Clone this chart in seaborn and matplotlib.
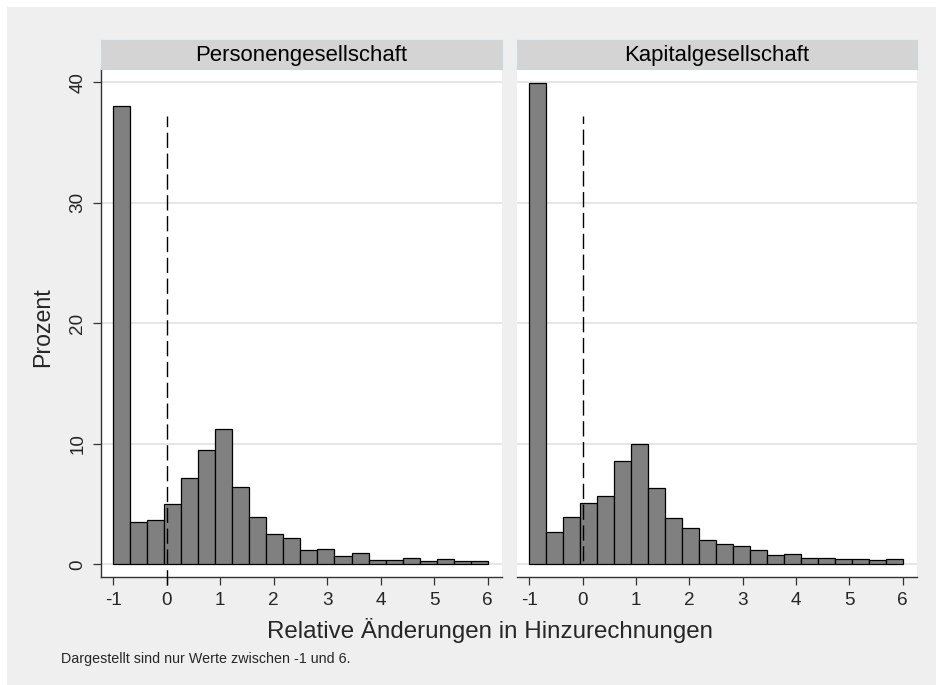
import matplotlib
matplotlib.use('Agg')
import matplotlib.pyplot as plt
import seaborn as sns
import numpy as np
import pandas as pd

# Histogram data: percent per bin, 22 bins between -1 and 6
bin_range = (-1, 6)
n_bins = 22
panels = ["Personengesellschaft", "Kapitalgesellschaft"]
pg_pct = [38.0, 3.5, 3.7, 5.0, 7.2, 9.5, 11.2, 6.45, 3.9, 2.5, 2.15,
          1.15, 1.25, 0.7, 0.95, 0.4, 0.4, 0.55, 0.3, 0.45, 0.25, 0.3]
kg_pct = [39.9, 2.65, 3.95, 5.1, 5.65, 8.55, 9.95, 6.3, 3.85, 3.05, 2.05,
          1.7, 1.5, 1.15, 0.8, 0.85, 0.55, 0.55, 0.45, 0.45, 0.35, 0.45]
y_ticks = [0, 10, 20, 30, 40]
x_ticks = [-1, 0, 1, 2, 3, 4, 5, 6]

edges = np.linspace(bin_range[0], bin_range[1], n_bins + 1)
centers = (edges[:-1] + edges[1:]) / 2
df = pd.DataFrame({
    "wert": np.concatenate([centers, centers]),
    "prozent": pg_pct + kg_pct,
    "rechtsform": [panels[0]] * n_bins + [panels[1]] * n_bins,
})

sns.set_theme(style="white")
plt.rcParams['font.family'] = ['Liberation Sans', 'DejaVu Sans']
plt.rcParams['lines.scale_dashes'] = False

W, H = 936, 685
fig = plt.figure(figsize=(W / 100, H / 100), dpi=100)
fig.patch.set_facecolor('white')
bg_color = '#efefef'
fig.patches.append(plt.Rectangle((7 / W, 0), 1, 1 - 7 / H, transform=fig.transFigure,
                                 facecolor=bg_color, edgecolor='none', zorder=-10))

def px_box(x0, y0, x1, y1):
    # pixel box (top-left origin) -> figure fraction rect
    return [x0 / W, 1 - y1 / H, (x1 - x0) / W, (y1 - y0) / H]

panel_x = [(101, 502), (517, 917)]
dash_bottom = [-1.7, 0.3]

for i, name in enumerate(panels):
    x0, x1 = panel_x[i]
    ax = fig.add_axes(px_box(x0, 69, x1, 577))
    ax.set_facecolor('white')
    sub = df[df["rechtsform"] == name]
    sns.histplot(data=sub, x="wert", weights="prozent", bins=n_bins, binrange=bin_range,
                 color='#808080', edgecolor='black', linewidth=0.9, alpha=1, ax=ax)
    ax.plot([0, 0], [dash_bottom[i], 37.2], color='black', lw=1.0,
            dashes=(11, 4), clip_on=False, zorder=5)

    ax.set_xlim(-1.232, 6.27)
    ax.set_ylim(-1.05, 41.1)
    ax.set_xticks(x_ticks)
    ax.set_xticklabels([str(t) for t in x_ticks], fontsize=13.6)
    ax.set_yticks(y_ticks)
    ax.yaxis.grid(True, color='#e4e4e4', lw=1.3)
    ax.xaxis.grid(False)
    ax.set_axisbelow(True)
    ax.set_xlabel("")
    ax.set_ylabel("")
    for s in ['top', 'right']:
        ax.spines[s].set_visible(False)
    ax.spines['bottom'].set_color('#333333')
    ax.spines['bottom'].set_linewidth(1.0)
    ax.tick_params(axis='x', direction='out', length=5.5, width=0.9, color='#333333',
                   pad=5, bottom=True)
    if i == 0:
        ax.spines['left'].set_color('#333333')
        ax.spines['left'].set_linewidth(1.0)
        ax.tick_params(axis='y', direction='out', length=5.5, width=0.9, color='#333333',
                       pad=5, left=True)
        ax.set_yticklabels([str(t) for t in y_ticks], fontsize=13.6, rotation=90, va='center')
    else:
        ax.spines['left'].set_visible(False)
        ax.tick_params(axis='y', left=False, labelleft=False)

    # facet strip
    sax = fig.add_axes(px_box(x0, 40, x1, 69))
    sax.set_facecolor('#d4d4d4')
    for s in sax.spines.values():
        s.set_color('#c9d9de')
        s.set_linewidth(0.8)
    sax.set_xticks([])
    sax.set_yticks([])
    sax.text(0.5, 0.47, name, ha='center', va='center', fontsize=15.9, color='black',
             transform=sax.transAxes)

fig.text(490 / W, 1 - 638 / H, "Relative Änderungen in Hinzurechnungen",
         ha='center', va='baseline', fontsize=17.4)
fig.text(42.5 / W, 1 - 327 / H, "Prozent", rotation=90, ha='center', va='center',
         fontsize=16.7)
fig.text(61 / W, 1 - 663 / H, "Dargestellt sind nur Werte zwischen -1 und 6.",
         ha='left', va='baseline', fontsize=10.3)

fig.savefig("out.png", dpi=100, facecolor=fig.get_facecolor())
